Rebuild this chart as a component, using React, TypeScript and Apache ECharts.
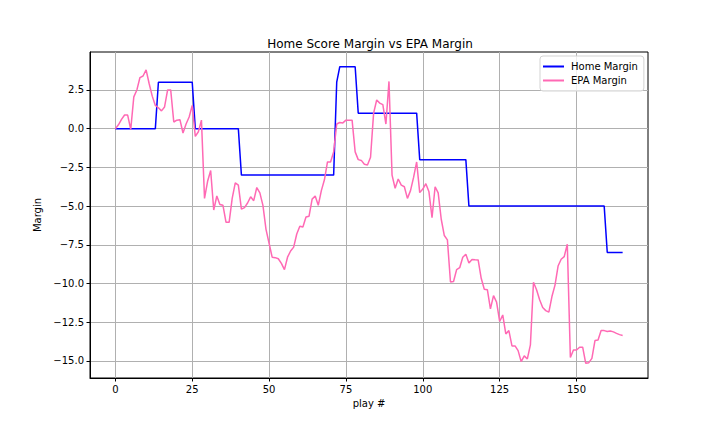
import React, { useEffect, useRef } from "react";
import * as echarts from "echarts";

const plays: number[] = Array.from({ length: 166 }, (_, i) => i);

const homeMargin: number[] = [
  0, 0, 0, 0, 0, 0, 0, 0, 0, 0, 0, 0, 0, 0,
  3, 3, 3, 3, 3, 3, 3, 3, 3, 3, 3, 3,
  0, 0, 0, 0, 0, 0, 0, 0, 0, 0, 0, 0, 0, 0, 0,
  -3, -3, -3, -3, -3, -3, -3, -3, -3, -3, -3, -3, -3, -3, -3, -3,
  -3, -3, -3, -3, -3, -3, -3, -3, -3, -3, -3, -3, -3, -3, -3,
  3,
  4, 4, 4, 4, 4, 4,
  1, 1, 1, 1, 1, 1, 1, 1, 1, 1, 1, 1, 1, 1, 1, 1, 1, 1, 1, 1,
  -2, -2, -2, -2, -2, -2, -2, -2, -2, -2, -2, -2, -2, -2, -2, -2,
  -5, -5, -5, -5, -5, -5, -5, -5, -5, -5, -5, -5, -5, -5, -5,
  -5, -5, -5, -5, -5, -5, -5, -5, -5, -5, -5, -5, -5, -5, -5,
  -5, -5, -5, -5, -5, -5, -5, -5, -5, -5, -5, -5, -5, -5, -5,
  -8, -8, -8, -8, -8, -8,
];

const epaMargin: number[] = [
  0, 0.25, 0.6, 0.88, 0.88, -0.05, 2.05, 2.5, 3.3, 3.4,
  3.8, 2.9, 2.1, 1.5, 1.35, 1.15, 1.4, 2.5, 2.5, 0.43,
  0.55, 0.58, -0.28, 0.3, 0.75, 1.5, -0.5, -0.2, 0.55, -4.5,
  -3.4, -2.7, -5.25, -4.35, -4.9, -4.95, -6.05, -6.05, -4.5, -3.5,
  -3.65, -5.2, -5.1, -4.8, -4.4, -4.65, -3.8, -4.15, -4.95, -6.5,
  -7.4, -8.3, -8.33, -8.4, -8.7, -9.1, -8.3, -7.9, -7.65, -6.8,
  -6.3, -6.35, -5.7, -5.65, -4.55, -4.35, -4.95, -4.0, -3.3, -2.15,
  -2.15, -1.5, 0.3, 0.4, 0.37, 0.55, 0.55, 0.55, -1.5, -2.0,
  -2.05, -2.3, -2.35, -1.85, 1.0, 1.85, 1.65, 1.55, 0.3, 3.05,
  -3.0, -3.85, -3.25, -3.65, -3.75, -4.5, -4.0, -3.15, -2.15, -4.13,
  -3.9, -3.55, -4.08, -5.75, -3.75, -4.15, -5.85, -6.9, -7.18, -9.9,
  -9.87, -9.1, -8.98, -8.3, -8.11, -8.67, -8.45, -8.47, -8.48, -9.66,
  -10.37, -10.4, -11.64, -10.78, -11.2, -12.45, -12.03, -13.25, -13.04, -14.03,
  -14.03, -14.33, -15.04, -14.67, -14.87, -13.96, -9.92, -10.4, -11.05, -11.55,
  -11.75, -11.85, -10.84, -10.1, -8.87, -8.43, -8.26, -7.46, -14.78, -14.29,
  -14.29, -14.11, -14.11, -15.15, -15.11, -14.83, -13.68, -13.64, -13.04, -13.04,
  -13.1, -13.06, -13.12, -13.22, -13.3, -13.36,
];

const xTicks: number[] = [0, 25, 50, 75, 100, 125, 150];
const yTicks: number[] = [-15, -12.5, -10, -7.5, -5, -2.5, 0, 2.5];

const FONT = "DejaVu Sans";

export default function App() {
  const ref = useRef<HTMLDivElement>(null);
  useEffect(() => {
    if (!ref.current) return;
    const chart = echarts.init(ref.current, null, { renderer: "svg" });
    const fmtY = (v: number) => (v < 0 ? "\u2212" : "") + Math.abs(v).toFixed(1);
    chart.setOption({
      animation: false,
      backgroundColor: "#ffffff",
      textStyle: { fontFamily: FONT },
      title: {
        text: "Home Score Margin vs EPA Margin",
        left: 365,
        top: 33,
        textAlign: "center",
        textStyle: { fontFamily: FONT, fontSize: 12, fontWeight: "normal", color: "#000" },
      },
      grid: {
        left: 90,
        right: 72,
        top: 52,
        bottom: 54,
        show: true,
        borderColor: "#000",
        borderWidth: 1,
        backgroundColor: "transparent",
      },
      legend: {
        left: 540,
        top: 56,
        orient: "vertical",
        itemGap: 3,
        itemWidth: 21,
        itemHeight: 2,
        padding: [5, 6, 5, 3],
        borderColor: "#d3d3d3",
        borderWidth: 1,
        borderRadius: 3,
        backgroundColor: "rgba(255,255,255,0.8)",
        textStyle: { fontFamily: FONT, fontSize: 10, color: "#000", padding: [0, 0, 0, 2], lineHeight: 11 },
        data: [
          { name: "Home Margin", icon: "rect" },
          { name: "EPA Margin", icon: "rect" },
        ],
      },
      xAxis: {
        type: "value",
        min: -8.25,
        max: 173.25,
        name: "play #",
        nameLocation: "middle",
        nameGap: 20,
        nameTextStyle: { fontFamily: FONT, fontSize: 10, color: "#000" },
        axisLine: { show: true, onZero: false, lineStyle: { color: "#000", width: 1 } },
        axisTick: { show: true, length: 3.5, lineStyle: { color: "#000" }, customValues: xTicks },
        axisLabel: {
          fontFamily: FONT,
          fontSize: 10,
          color: "#000",
          margin: 6,
          customValues: xTicks,
        },
        splitLine: { show: true, lineStyle: { color: "#b0b0b0", width: 1 } },
      },
      yAxis: {
        type: "value",
        min: -16.1,
        max: 4.95,
        name: "Margin",
        nameLocation: "middle",
        nameGap: 37,
        nameTextStyle: { fontFamily: FONT, fontSize: 10, color: "#000" },
        axisLine: { show: true, onZero: false, lineStyle: { color: "#000", width: 1 } },
        axisTick: { show: true, length: 3.5, lineStyle: { color: "#000" }, customValues: yTicks },
        axisLabel: {
          fontFamily: FONT,
          fontSize: 10,
          color: "#000",
          margin: 6,
          customValues: yTicks,
          formatter: (v: number) => fmtY(v),
        },
        splitLine: { show: true, lineStyle: { color: "#b0b0b0", width: 1 } },
      },
      series: [
        {
          name: "Home Margin",
          type: "line",
          data: plays.map((p, i) => [p, homeMargin[i]]),
          symbol: "none",
          lineStyle: { color: "#0000ff", width: 1.5 },
          itemStyle: { color: "#0000ff" },
          z: 3,
        },
        {
          name: "EPA Margin",
          type: "line",
          data: plays.map((p, i) => [p, epaMargin[i]]),
          symbol: "none",
          lineStyle: { color: "#ff69b4", width: 1.5 },
          itemStyle: { color: "#ff69b4" },
          z: 4,
        },
      ],
    });
    return () => chart.dispose();
  }, []);
  return (
    <div
      ref={ref}
      style={{ position: "fixed", left: 0, top: 0, width: 720, height: 432 }}
    />
  );
}
